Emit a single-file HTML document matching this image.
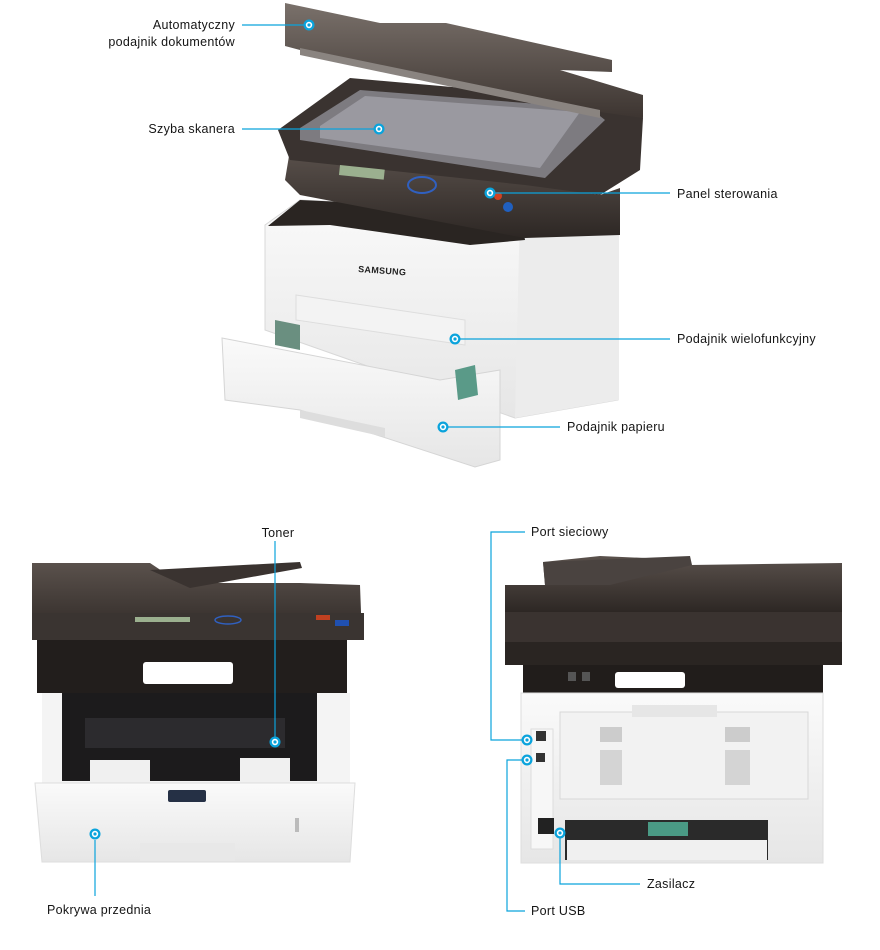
<!DOCTYPE html>
<html><head><meta charset="utf-8"><style>
html,body{margin:0;padding:0;background:#fff;}
body{width:880px;height:950px;overflow:hidden;position:relative;font-family:"Liberation Sans",sans-serif;}
svg{position:absolute;left:0;top:0;}
text{font-family:"Liberation Sans",sans-serif;font-size:12.5px;fill:#151515;letter-spacing:0.3px;}
</style></head><body>
<svg width="880" height="950" viewBox="0 0 880 950">
<defs>
<linearGradient id="dk" x1="0" y1="0" x2="0" y2="1"><stop offset="0" stop-color="#5a514c"/><stop offset="1" stop-color="#2d2724"/></linearGradient>
<linearGradient id="lid" x1="0" y1="0" x2="0" y2="1"><stop offset="0" stop-color="#7a716b"/><stop offset="1" stop-color="#3d3531"/></linearGradient>
<linearGradient id="wh" x1="0" y1="0" x2="0" y2="1"><stop offset="0" stop-color="#fafafa"/><stop offset="1" stop-color="#e6e6e6"/></linearGradient>
<g id="mk"><circle r="5.5" fill="#0aa3dc"/><circle r="3.2" fill="#fff"/><circle r="1.6" fill="#0aa3dc"/></g>
</defs>

<!-- TOP PRINTER -->
<polygon points="265,225 300,200 520,210 618,195 618,400 515,418 265,330" fill="url(#wh)" stroke="#d8d8d8"/>
<polygon points="520,210 618,195 618,400 515,418" fill="#ececec"/>
<polygon points="268,226 300,200 520,210 525,240 470,245 330,225" fill="#2a2522"/>
<text x="358" y="272" style="font-size:9px;font-weight:bold;fill:#222" transform="rotate(4 358 272)">SAMSUNG</text>
<polygon points="296,295 465,320 465,345 296,320" fill="#f3f3f3" stroke="#ddd"/>
<polygon points="275,320 300,325 300,350 275,345" fill="#6a8f80"/>
<polygon points="290,150 525,183 600,195 620,188 620,235 525,238 300,195 285,180" fill="url(#dk)"/>
<polygon points="278,130 350,78 600,100 643,118 640,170 600,195 525,185 290,160" fill="#3a3330"/>
<polygon points="300,128 360,90 590,108 605,120 545,178 300,140" fill="#7d7b80"/>
<polygon points="320,126 365,96 580,112 540,168 320,138" fill="#9a99a0"/>
<polygon points="285,3 380,23 446,23 612,60 612,72 560,70 643,95 643,118 600,112 300,50 285,46" fill="url(#lid)"/>
<polygon points="300,48 600,110 600,118 300,55" fill="#8a8480"/>
<rect x="340" y="165" width="45" height="10" fill="#9bb08f" transform="rotate(6 340 165)"/>
<ellipse cx="422" cy="185" rx="14" ry="8" fill="none" stroke="#3060c0" stroke-width="2"/>
<circle cx="508" cy="207" r="5" fill="#2060c0"/>
<circle cx="498" cy="196" r="4" fill="#d04020"/>
<polygon points="222,338 440,380 500,370 500,460 475,467 300,410 225,400" fill="url(#wh)" stroke="#d5d5d5"/>
<polygon points="300,410 385,428 385,437 300,418" fill="#ddd"/>
<polygon points="455,370 475,365 478,395 458,400" fill="#5a9a88"/>

<!-- BOTTOM LEFT PRINTER -->
<polygon points="32,563 150,563 180,583 300,583 360,585 362,640 32,640" fill="url(#dk)"/>
<polygon points="150,570 300,562 302,568 190,588" fill="#3a3330"/>
<rect x="32" y="613" width="332" height="27" fill="#3a3431"/>
<rect x="135" y="617" width="55" height="5" fill="#9bb08f"/>
<ellipse cx="228" cy="620" rx="13" ry="4" fill="none" stroke="#3060c0" stroke-width="1.5"/>
<rect x="335" y="620" width="14" height="6" fill="#2050b0"/>
<rect x="316" y="615" width="14" height="5" fill="#c04020"/>
<rect x="37" y="640" width="310" height="53" fill="#221e1c"/>
<rect x="143" y="662" width="90" height="22" rx="3" fill="#fff"/>
<rect x="42" y="693" width="308" height="92" fill="#f4f4f4"/>
<rect x="62" y="693" width="255" height="88" fill="#1c1b1c"/>
<rect x="85" y="718" width="200" height="30" fill="#2c2b2e"/>
<rect x="90" y="760" width="60" height="25" fill="#f0f0f0"/>
<rect x="240" y="758" width="50" height="27" fill="#f0f0f0"/>
<polygon points="35,783 355,783 350,862 42,862" fill="url(#wh)" stroke="#ddd"/>
<rect x="168" y="790" width="38" height="12" rx="2" fill="#253045"/>
<rect x="140" y="843" width="95" height="18" fill="#e8e8e8"/>
<rect x="295" y="818" width="4" height="14" fill="#bbb"/>

<!-- BOTTOM RIGHT PRINTER -->
<polygon points="543,562 600,556 690,560 690,565 842,563 842,612 505,612 505,585 545,585" fill="url(#dk)"/>
<polygon points="543,562 690,556 692,565 610,585 545,585" fill="#4a4340"/>
<rect x="505" y="612" width="337" height="30" fill="#3a3330"/>
<rect x="505" y="642" width="337" height="23" fill="#2a2522"/>
<rect x="523" y="665" width="300" height="28" fill="#211d1b"/>
<rect x="615" y="672" width="70" height="16" rx="3" fill="#fff"/>
<rect x="568" y="672" width="8" height="9" fill="#555"/><rect x="582" y="672" width="8" height="9" fill="#555"/>
<rect x="521" y="693" width="302" height="170" fill="url(#wh)" stroke="#ddd"/>
<rect x="560" y="712" width="248" height="87" fill="#f2f2f2" stroke="#d8d8d8"/>
<rect x="632" y="705" width="85" height="12" fill="#e6e6e6"/>
<rect x="600" y="727" width="22" height="15" fill="#ccc"/><rect x="725" y="727" width="25" height="15" fill="#ccc"/>
<rect x="600" y="750" width="22" height="35" fill="#d4d4d4"/><rect x="725" y="750" width="25" height="35" fill="#d4d4d4"/>
<rect x="531" y="729" width="22" height="120" fill="#f7f7f7" stroke="#ddd"/>
<rect x="536" y="731" width="10" height="10" fill="#333"/>
<rect x="536" y="753" width="9" height="9" fill="#333"/>
<rect x="538" y="818" width="16" height="16" fill="#222"/>
<rect x="565" y="820" width="203" height="40" fill="#2a2a2a"/>
<rect x="567" y="840" width="200" height="20" fill="#f0f0f0"/>
<rect x="648" y="822" width="40" height="14" fill="#4a9a85"/>

<!-- CONNECTORS -->
<g stroke="#0aa3dc" stroke-width="1.2" fill="none">
<line x1="242" y1="25" x2="304" y2="25"/>
<line x1="242" y1="129" x2="374" y2="129"/>
<line x1="495" y1="193" x2="670" y2="193"/>
<line x1="460" y1="339" x2="670" y2="339"/>
<line x1="447" y1="427" x2="560" y2="427"/>
<line x1="275" y1="541" x2="275" y2="737"/>
<line x1="95" y1="840" x2="95" y2="896"/>
<polyline points="525,532 491,532 491,740 522,740"/>
<polyline points="522,760 507,760 507,911 525,911"/>
<polyline points="560,838 560,884 640,884"/>
</g>
<use href="#mk" x="309" y="25"/>
<use href="#mk" x="379" y="129"/>
<use href="#mk" x="490" y="193"/>
<use href="#mk" x="455" y="339"/>
<use href="#mk" x="443" y="427"/>
<use href="#mk" x="275" y="742"/>
<use href="#mk" x="95" y="834"/>
<use href="#mk" x="527" y="740"/>
<use href="#mk" x="527" y="760"/>
<use href="#mk" x="560" y="833"/>

<!-- LABELS -->
<text x="235" y="29" text-anchor="end">Automatyczny</text>
<text x="235" y="46" text-anchor="end">podajnik dokumentów</text>
<text x="235" y="133" text-anchor="end">Szyba skanera</text>
<text x="677" y="198">Panel sterowania</text>
<text x="677" y="343">Podajnik wielofunkcyjny</text>
<text x="567" y="431">Podajnik papieru</text>
<text x="278" y="537" text-anchor="middle">Toner</text>
<text x="47" y="914">Pokrywa przednia</text>
<text x="531" y="536">Port sieciowy</text>
<text x="647" y="888">Zasilacz</text>
<text x="531" y="915">Port USB</text>
</svg>
</body></html>
